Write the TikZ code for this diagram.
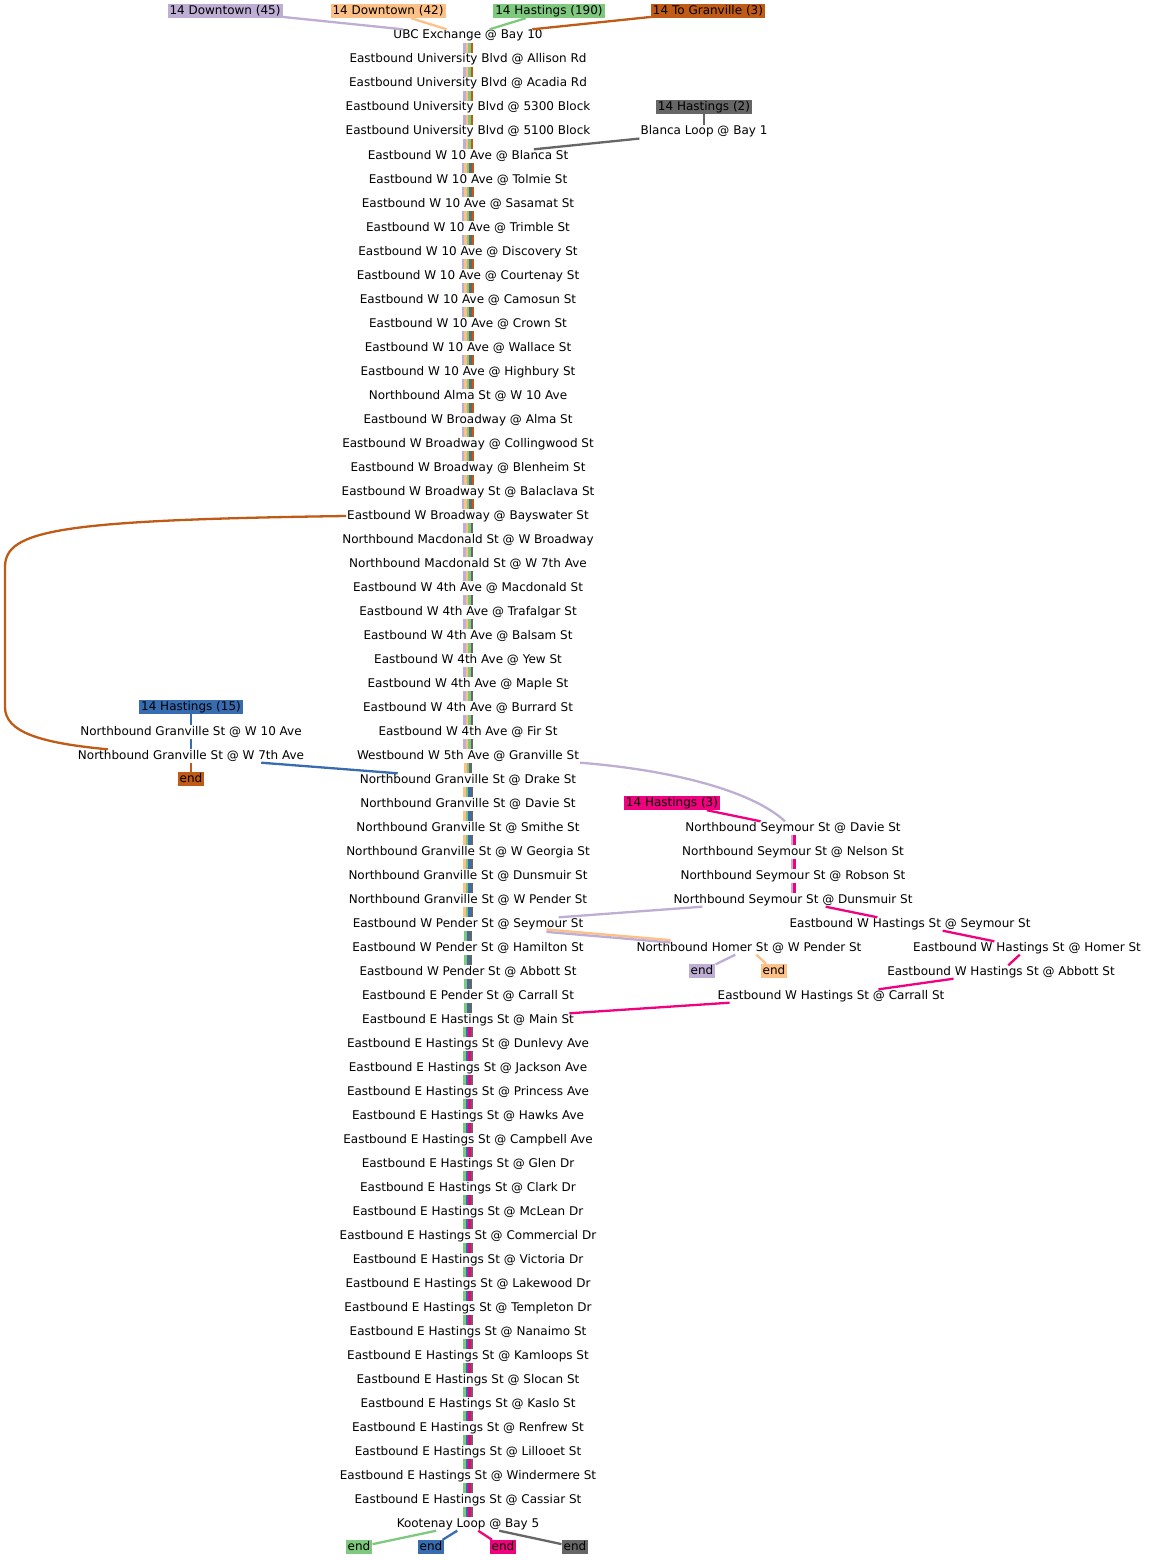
\documentclass[tikz,border=0pt]{standalone}
\usepackage{fontspec}
\setmainfont{DejaVu Sans}

\definecolor{rDown45}{HTML}{BEAED4}
\definecolor{rDown42}{HTML}{FDC086}
\definecolor{rHast190}{HTML}{7FC97F}
\definecolor{rGran3}{HTML}{BF5B17}
\definecolor{rHast2}{HTML}{666666}
\definecolor{rHast15}{HTML}{386CB0}
\definecolor{rHast3}{HTML}{F0027F}

\tikzstyle{stopname} = [
    inner sep=1pt,
    text height=8.5pt,
    text depth=2.5pt,
    font=\fontsize{12}{14}\selectfont
]
\tikzstyle{routelabel} = [
    inner xsep=2pt,
    inner ysep=1.25pt,
    text height=9pt,
    text depth=2.5pt,
    font=\fontsize{12}{14}\selectfont
]
\tikzstyle{link} = [line width=2.3pt]
\tikzstyle{bar} = [line width=2.5pt]

% one coloured bar per route between two stops
\newcommand{\stripe}[3]{%
  \foreach \c [count=\k] in {#3} {\xdef\nstripe{\k}}%
  \foreach \c [count=\k] in {#3} {%
    \pgfmathsetmacro\dx{(\k-(\nstripe+1)/2)*2.5}%
    \draw[bar, color=\c] ([xshift=\dx pt]#1.south) -- ([xshift=\dx pt]#2.north);
  }%
}

\begin{document}
\begin{tikzpicture}[x=1pt, y=-1pt]
\useasboundingbox (0,0) rectangle (1149,1560);

% main column
\foreach \name [count=\i] in {
    UBC Exchange @ Bay 10,
    Eastbound University Blvd @ Allison Rd,
    Eastbound University Blvd @ Acadia Rd,
    Eastbound University Blvd @ 5300 Block,
    Eastbound University Blvd @ 5100 Block,
    Eastbound W 10 Ave @ Blanca St,
    Eastbound W 10 Ave @ Tolmie St,
    Eastbound W 10 Ave @ Sasamat St,
    Eastbound W 10 Ave @ Trimble St,
    Eastbound W 10 Ave @ Discovery St,
    Eastbound W 10 Ave @ Courtenay St,
    Eastbound W 10 Ave @ Camosun St,
    Eastbound W 10 Ave @ Crown St,
    Eastbound W 10 Ave @ Wallace St,
    Eastbound W 10 Ave @ Highbury St,
    Northbound Alma St @ W 10 Ave,
    Eastbound W Broadway @ Alma St,
    Eastbound W Broadway @ Collingwood St,
    Eastbound W Broadway @ Blenheim St,
    Eastbound W Broadway St @ Balaclava St,
    Eastbound W Broadway @ Bayswater St,
    Northbound Macdonald St @ W Broadway,
    Northbound Macdonald St @ W 7th Ave,
    Eastbound W 4th Ave @ Macdonald St,
    Eastbound W 4th Ave @ Trafalgar St,
    Eastbound W 4th Ave @ Balsam St,
    Eastbound W 4th Ave @ Yew St,
    Eastbound W 4th Ave @ Maple St,
    Eastbound W 4th Ave @ Burrard St,
    Eastbound W 4th Ave @ Fir St,
    Westbound W 5th Ave @ Granville St,
    Northbound Granville St @ Drake St,
    Northbound Granville St @ Davie St,
    Northbound Granville St @ Smithe St,
    Northbound Granville St @ W Georgia St,
    Northbound Granville St @ Dunsmuir St,
    Northbound Granville St @ W Pender St,
    Eastbound W Pender St @ Seymour St,
    Eastbound W Pender St @ Hamilton St,
    Eastbound W Pender St @ Abbott St,
    Eastbound E Pender St @ Carrall St,
    Eastbound E Hastings St @ Main St,
    Eastbound E Hastings St @ Dunlevy Ave,
    Eastbound E Hastings St @ Jackson Ave,
    Eastbound E Hastings St @ Princess Ave,
    Eastbound E Hastings St @ Hawks Ave,
    Eastbound E Hastings St @ Campbell Ave,
    Eastbound E Hastings St @ Glen Dr,
    Eastbound E Hastings St @ Clark Dr,
    Eastbound E Hastings St @ McLean Dr,
    Eastbound E Hastings St @ Commercial Dr,
    Eastbound E Hastings St @ Victoria Dr,
    Eastbound E Hastings St @ Lakewood Dr,
    Eastbound E Hastings St @ Templeton Dr,
    Eastbound E Hastings St @ Nanaimo St,
    Eastbound E Hastings St @ Kamloops St,
    Eastbound E Hastings St @ Slocan St,
    Eastbound E Hastings St @ Kaslo St,
    Eastbound E Hastings St @ Renfrew St,
    Eastbound E Hastings St @ Lillooet St,
    Eastbound E Hastings St @ Windermere St,
    Eastbound E Hastings St @ Cassiar St,
    Kootenay Loop @ Bay 5} {
  \node[stopname] (stop\i) at (468,{12+24*\i}) {\name};
}

% route labels
\node (lab45) [routelabel, fill=rDown45] at (225,11) {14 Downtown (45)};
\node (lab42) [routelabel, fill=rDown42] at (388,11) {14 Downtown (42)};
\node (lab190) [routelabel, fill=rHast190] at (549,11) {14 Hastings (190)};
\node (labGran) [routelabel, fill=rGran3] at (708,11) {14 To Granville (3)};
\node (lab2) [routelabel, fill=rHast2] at (704,107) {14 Hastings (2)};
\node (lab15) [routelabel, fill=rHast15] at (191,707) {14 Hastings (15)};
\node (lab3) [routelabel, fill=rHast3] at (672,803) {14 Hastings (3)};

% side stops
\node (blanca) [stopname] at (704,132) {Blanca Loop @ Bay 1};
\node (gran10) [stopname] at (191,732) {Northbound Granville St @ W 10 Ave};
\node (gran7) [stopname] at (191,756) {Northbound Granville St @ W 7th Ave};
\node (seyDavie) [stopname] at (793,828) {Northbound Seymour St @ Davie St};
\node (seyNelson) [stopname] at (793,852) {Northbound Seymour St @ Nelson St};
\node (seyRobson) [stopname] at (793,876) {Northbound Seymour St @ Robson St};
\node (seyDuns) [stopname] at (793,900) {Northbound Seymour St @ Dunsmuir St};
\node (hastSey) [stopname] at (910,924) {Eastbound W Hastings St @ Seymour St};
\node (homer) [stopname] at (749,948) {Northbound Homer St @ W Pender St};
\node (hastHomer) [stopname] at (1027,948) {Eastbound W Hastings St @ Homer St};
\node (hastAbbott) [stopname] at (1001,972) {Eastbound W Hastings St @ Abbott St};
\node (hastCarrall) [stopname] at (831,996) {Eastbound W Hastings St @ Carrall St};

% ends
\node (endGran) [routelabel, fill=rGran3] at (191,779) {end};
\node (endDown45) [routelabel, fill=rDown45] at (702,971) {end};
\node (endDown42) [routelabel, fill=rDown42] at (774,971) {end};
\node (endHast190) [routelabel, fill=rHast190] at (359,1547) {end};
\node (endHast15) [routelabel, fill=rHast15] at (431,1547) {end};
\node (endHast3) [routelabel, fill=rHast3] at (503,1547) {end};
\node (endHast2) [routelabel, fill=rHast2] at (575,1547) {end};

% bars along the main column
\foreach \i in {1,...,5} {
  \pgfmathtruncatemacro\j{\i+1}
  \stripe{stop\i}{stop\j}{rDown45,rDown42,rHast190,rGran3}
}
\foreach \i in {6,...,20} {
  \pgfmathtruncatemacro\j{\i+1}
  \stripe{stop\i}{stop\j}{rDown45,rDown42,rHast190,rHast2,rGran3}
}
\foreach \i in {21,...,30} {
  \pgfmathtruncatemacro\j{\i+1}
  \stripe{stop\i}{stop\j}{rDown45,rDown42,rHast190,rHast2}
}
\stripe{stop31}{stop32}{rDown42,rHast190,rHast2}
\foreach \i in {32,...,37} {
  \pgfmathtruncatemacro\j{\i+1}
  \stripe{stop\i}{stop\j}{rDown42,rHast190,rHast15,rHast2}
}
\foreach \i in {38,...,41} {
  \pgfmathtruncatemacro\j{\i+1}
  \stripe{stop\i}{stop\j}{rHast190,rHast15,rHast2}
}
\foreach \i in {42,...,62} {
  \pgfmathtruncatemacro\j{\i+1}
  \stripe{stop\i}{stop\j}{rHast190,rHast15,rHast3,rHast2}
}

% Seymour branch
\stripe{seyDavie}{seyNelson}{rDown45,rHast3}
\stripe{seyNelson}{seyRobson}{rDown45,rHast3}
\stripe{seyRobson}{seyDuns}{rDown45,rHast3}
\stripe{gran10}{gran7}{rHast15}

% start links
\draw[link, rDown45] (lab45) -- (stop1);
\draw[link, rDown42] (lab42) -- (stop1);
\draw[link, rHast190] (lab190) -- (stop1);
\draw[link, rGran3] (labGran) -- (stop1);
\draw[link, rHast2] (lab2) -- (blanca);
\draw[link, rHast2] (blanca) -- (stop6);
\draw[link, rHast15] (lab15) -- (gran10);
\draw[link, rHast3] (lab3) -- (seyDavie);

% detours
\draw[link, rGran3] (stop21.west) .. controls (60,520) and (5,530) .. (5,567)
    -- (5,707) .. controls (5,732) and (40,743) .. ([xshift=31pt]gran7.north west);
\draw[link, rGran3] (gran7) -- (endGran);
\draw[link, rHast15] ([xshift=-44pt]gran7.south east) -- ([xshift=39pt]stop32.north west);
\draw[link, rDown45] (stop31.south east) .. controls +(100,8) and +(-30,-28) .. ([xshift=-8pt]seyDavie.north);
\draw[link, rDown45] (seyDuns) -- (stop38);
\draw[link, rHast3] (seyDuns) -- (hastSey);
\draw[link, rHast3] (hastSey) -- (hastHomer);
\draw[link, rHast3] (hastHomer) -- (hastAbbott);
\draw[link, rHast3] (hastAbbott) -- (hastCarrall);
\draw[link, rHast3] (hastCarrall) -- (stop42);
\draw[link, rDown42, transform canvas={yshift=1.2pt}] (stop38) -- (homer);
\draw[link, rDown45, transform canvas={yshift=-1.2pt}] (stop38) -- (homer);
\draw[link, rDown45] (homer) -- (endDown45);
\draw[link, rDown42] (homer) -- (endDown42);

% end links
\draw[link, rHast190] (stop63) -- (endHast190);
\draw[link, rHast15] (stop63) -- (endHast15);
\draw[link, rHast3] (stop63) -- (endHast3);
\draw[link, rHast2] (stop63) -- (endHast2);

\end{tikzpicture}
\end{document}
